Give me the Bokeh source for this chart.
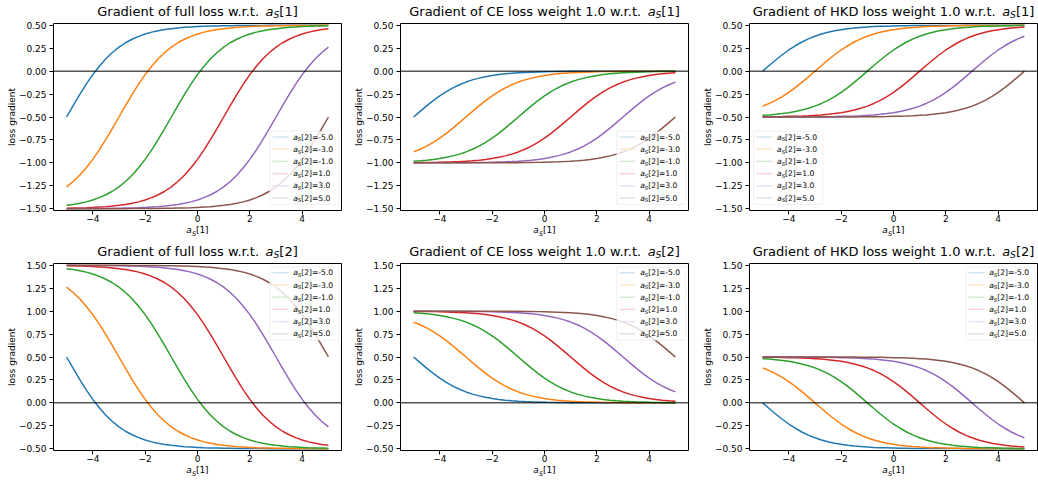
from bokeh.plotting import figure
from bokeh.models import Range1d, FixedTicker, CustomJSTickFormatter, Span, Label, BoxAnnotation
from bokeh.layouts import row, column
from bokeh.embed import file_html
from bokeh.resources import INLINE

# ---------------- data ----------------
x_values = [-5.0, -4.75, -4.5, -4.25, -4.0, -3.75, -3.5, -3.25, -3.0, -2.75, -2.5, -2.25, -2.0, -1.75,
            -1.5, -1.25, -1.0, -0.75, -0.5, -0.25, 0.0, 0.25, 0.5, 0.75, 1.0, 1.25, 1.5, 1.75,
            2.0, 2.25, 2.5, 2.75, 3.0, 3.25, 3.5, 3.75, 4.0, 4.25, 4.5, 4.75, 5.0]
legend_values = ["-5.0", "-3.0", "-1.0", "1.0", "3.0", "5.0"]
colors = ["#1f77b4", "#ff7f0e", "#2ca02c", "#d62728", "#9467bd", "#8c564b"]

full_grad_a1 = [
    [-0.500, -0.376, -0.256, -0.142, -0.038, 0.054, 0.136, 0.204, 0.262, 0.310, 0.348, 0.380, 0.406, 0.426,
     0.442, 0.454, 0.464, 0.472, 0.478, 0.482, 0.486, 0.490, 0.492, 0.494, 0.496, 0.496, 0.498, 0.498,
     0.498, 0.498, 0.498, 0.500, 0.500, 0.500, 0.500, 0.500, 0.500, 0.500, 0.500, 0.500, 0.500],
    [-1.262, -1.204, -1.136, -1.054, -0.962, -0.858, -0.744, -0.624, -0.500, -0.376, -0.256, -0.142, -0.038, 0.054,
     0.136, 0.204, 0.262, 0.310, 0.348, 0.380, 0.406, 0.426, 0.442, 0.454, 0.464, 0.472, 0.478, 0.482,
     0.486, 0.490, 0.492, 0.494, 0.496, 0.496, 0.498, 0.498, 0.498, 0.498, 0.498, 0.500, 0.500],
    [-1.464, -1.454, -1.442, -1.426, -1.406, -1.380, -1.348, -1.310, -1.262, -1.204, -1.136, -1.054, -0.962, -0.858,
     -0.744, -0.624, -0.500, -0.376, -0.256, -0.142, -0.038, 0.054, 0.136, 0.204, 0.262, 0.310, 0.348, 0.380,
     0.406, 0.426, 0.442, 0.454, 0.464, 0.472, 0.478, 0.482, 0.486, 0.490, 0.492, 0.494, 0.496],
    [-1.496, -1.494, -1.492, -1.490, -1.486, -1.482, -1.478, -1.472, -1.464, -1.454, -1.442, -1.426, -1.406, -1.380,
     -1.348, -1.310, -1.262, -1.204, -1.136, -1.054, -0.962, -0.858, -0.744, -0.624, -0.500, -0.376, -0.256, -0.142,
     -0.038, 0.054, 0.136, 0.204, 0.262, 0.310, 0.348, 0.380, 0.406, 0.426, 0.442, 0.454, 0.464],
    [-1.500, -1.500, -1.498, -1.498, -1.498, -1.498, -1.498, -1.496, -1.496, -1.494, -1.492, -1.490, -1.486, -1.482,
     -1.478, -1.472, -1.464, -1.454, -1.442, -1.426, -1.406, -1.380, -1.348, -1.310, -1.262, -1.204, -1.136, -1.054,
     -0.962, -0.858, -0.744, -0.624, -0.500, -0.376, -0.256, -0.142, -0.038, 0.054, 0.136, 0.204, 0.262],
    [-1.500, -1.500, -1.500, -1.500, -1.500, -1.500, -1.500, -1.500, -1.500, -1.500, -1.498, -1.498, -1.498, -1.498,
     -1.498, -1.496, -1.496, -1.494, -1.492, -1.490, -1.486, -1.482, -1.478, -1.472, -1.464, -1.454, -1.442, -1.426,
     -1.406, -1.380, -1.348, -1.310, -1.262, -1.204, -1.136, -1.054, -0.962, -0.858, -0.744, -0.624, -0.500],
]
ce_grad_a1 = [
    [-0.500, -0.438, -0.378, -0.321, -0.269, -0.223, -0.182, -0.148, -0.119, -0.095, -0.076, -0.060, -0.047, -0.037,
     -0.029, -0.023, -0.018, -0.014, -0.011, -0.009, -0.007, -0.005, -0.004, -0.003, -0.002, -0.002, -0.001, -0.001,
     -0.001, -0.001, -0.001, 0.000, 0.000, 0.000, 0.000, 0.000, 0.000, 0.000, 0.000, 0.000, 0.000],
    [-0.881, -0.852, -0.818, -0.777, -0.731, -0.679, -0.622, -0.562, -0.500, -0.438, -0.378, -0.321, -0.269, -0.223,
     -0.182, -0.148, -0.119, -0.095, -0.076, -0.060, -0.047, -0.037, -0.029, -0.023, -0.018, -0.014, -0.011, -0.009,
     -0.007, -0.005, -0.004, -0.003, -0.002, -0.002, -0.001, -0.001, -0.001, -0.001, -0.001, 0.000, 0.000],
    [-0.982, -0.977, -0.971, -0.963, -0.953, -0.940, -0.924, -0.905, -0.881, -0.852, -0.818, -0.777, -0.731, -0.679,
     -0.622, -0.562, -0.500, -0.438, -0.378, -0.321, -0.269, -0.223, -0.182, -0.148, -0.119, -0.095, -0.076, -0.060,
     -0.047, -0.037, -0.029, -0.023, -0.018, -0.014, -0.011, -0.009, -0.007, -0.005, -0.004, -0.003, -0.002],
    [-0.998, -0.997, -0.996, -0.995, -0.993, -0.991, -0.989, -0.986, -0.982, -0.977, -0.971, -0.963, -0.953, -0.940,
     -0.924, -0.905, -0.881, -0.852, -0.818, -0.777, -0.731, -0.679, -0.622, -0.562, -0.500, -0.438, -0.378, -0.321,
     -0.269, -0.223, -0.182, -0.148, -0.119, -0.095, -0.076, -0.060, -0.047, -0.037, -0.029, -0.023, -0.018],
    [-1.000, -1.000, -0.999, -0.999, -0.999, -0.999, -0.999, -0.998, -0.998, -0.997, -0.996, -0.995, -0.993, -0.991,
     -0.989, -0.986, -0.982, -0.977, -0.971, -0.963, -0.953, -0.940, -0.924, -0.905, -0.881, -0.852, -0.818, -0.777,
     -0.731, -0.679, -0.622, -0.562, -0.500, -0.438, -0.378, -0.321, -0.269, -0.223, -0.182, -0.148, -0.119],
    [-1.000, -1.000, -1.000, -1.000, -1.000, -1.000, -1.000, -1.000, -1.000, -1.000, -0.999, -0.999, -0.999, -0.999,
     -0.999, -0.998, -0.998, -0.997, -0.996, -0.995, -0.993, -0.991, -0.989, -0.986, -0.982, -0.977, -0.971, -0.963,
     -0.953, -0.940, -0.924, -0.905, -0.881, -0.852, -0.818, -0.777, -0.731, -0.679, -0.622, -0.562, -0.500],
]
hkd_grad_a1 = [
    [0.000, 0.062, 0.122, 0.179, 0.231, 0.277, 0.318, 0.352, 0.381, 0.405, 0.424, 0.440, 0.453, 0.463,
     0.471, 0.477, 0.482, 0.486, 0.489, 0.491, 0.493, 0.495, 0.496, 0.497, 0.498, 0.498, 0.499, 0.499,
     0.499, 0.499, 0.499, 0.500, 0.500, 0.500, 0.500, 0.500, 0.500, 0.500, 0.500, 0.500, 0.500],
    [-0.381, -0.352, -0.318, -0.277, -0.231, -0.179, -0.122, -0.062, 0.000, 0.062, 0.122, 0.179, 0.231, 0.277,
     0.318, 0.352, 0.381, 0.405, 0.424, 0.440, 0.453, 0.463, 0.471, 0.477, 0.482, 0.486, 0.489, 0.491,
     0.493, 0.495, 0.496, 0.497, 0.498, 0.498, 0.499, 0.499, 0.499, 0.499, 0.499, 0.500, 0.500],
    [-0.482, -0.477, -0.471, -0.463, -0.453, -0.440, -0.424, -0.405, -0.381, -0.352, -0.318, -0.277, -0.231, -0.179,
     -0.122, -0.062, 0.000, 0.062, 0.122, 0.179, 0.231, 0.277, 0.318, 0.352, 0.381, 0.405, 0.424, 0.440,
     0.453, 0.463, 0.471, 0.477, 0.482, 0.486, 0.489, 0.491, 0.493, 0.495, 0.496, 0.497, 0.498],
    [-0.498, -0.497, -0.496, -0.495, -0.493, -0.491, -0.489, -0.486, -0.482, -0.477, -0.471, -0.463, -0.453, -0.440,
     -0.424, -0.405, -0.381, -0.352, -0.318, -0.277, -0.231, -0.179, -0.122, -0.062, 0.000, 0.062, 0.122, 0.179,
     0.231, 0.277, 0.318, 0.352, 0.381, 0.405, 0.424, 0.440, 0.453, 0.463, 0.471, 0.477, 0.482],
    [-0.500, -0.500, -0.499, -0.499, -0.499, -0.499, -0.499, -0.498, -0.498, -0.497, -0.496, -0.495, -0.493, -0.491,
     -0.489, -0.486, -0.482, -0.477, -0.471, -0.463, -0.453, -0.440, -0.424, -0.405, -0.381, -0.352, -0.318, -0.277,
     -0.231, -0.179, -0.122, -0.062, 0.000, 0.062, 0.122, 0.179, 0.231, 0.277, 0.318, 0.352, 0.381],
    [-0.500, -0.500, -0.500, -0.500, -0.500, -0.500, -0.500, -0.500, -0.500, -0.500, -0.499, -0.499, -0.499, -0.499,
     -0.499, -0.498, -0.498, -0.497, -0.496, -0.495, -0.493, -0.491, -0.489, -0.486, -0.482, -0.477, -0.471, -0.463,
     -0.453, -0.440, -0.424, -0.405, -0.381, -0.352, -0.318, -0.277, -0.231, -0.179, -0.122, -0.062, 0.000],
]
full_grad_a2 = [
    [0.500, 0.376, 0.256, 0.142, 0.038, -0.054, -0.136, -0.204, -0.262, -0.310, -0.348, -0.380, -0.406, -0.426,
     -0.442, -0.454, -0.464, -0.472, -0.478, -0.482, -0.486, -0.490, -0.492, -0.494, -0.496, -0.496, -0.498, -0.498,
     -0.498, -0.498, -0.498, -0.500, -0.500, -0.500, -0.500, -0.500, -0.500, -0.500, -0.500, -0.500, -0.500],
    [1.262, 1.204, 1.136, 1.054, 0.962, 0.858, 0.744, 0.624, 0.500, 0.376, 0.256, 0.142, 0.038, -0.054,
     -0.136, -0.204, -0.262, -0.310, -0.348, -0.380, -0.406, -0.426, -0.442, -0.454, -0.464, -0.472, -0.478, -0.482,
     -0.486, -0.490, -0.492, -0.494, -0.496, -0.496, -0.498, -0.498, -0.498, -0.498, -0.498, -0.500, -0.500],
    [1.464, 1.454, 1.442, 1.426, 1.406, 1.380, 1.348, 1.310, 1.262, 1.204, 1.136, 1.054, 0.962, 0.858,
     0.744, 0.624, 0.500, 0.376, 0.256, 0.142, 0.038, -0.054, -0.136, -0.204, -0.262, -0.310, -0.348, -0.380,
     -0.406, -0.426, -0.442, -0.454, -0.464, -0.472, -0.478, -0.482, -0.486, -0.490, -0.492, -0.494, -0.496],
    [1.496, 1.494, 1.492, 1.490, 1.486, 1.482, 1.478, 1.472, 1.464, 1.454, 1.442, 1.426, 1.406, 1.380,
     1.348, 1.310, 1.262, 1.204, 1.136, 1.054, 0.962, 0.858, 0.744, 0.624, 0.500, 0.376, 0.256, 0.142,
     0.038, -0.054, -0.136, -0.204, -0.262, -0.310, -0.348, -0.380, -0.406, -0.426, -0.442, -0.454, -0.464],
    [1.500, 1.500, 1.498, 1.498, 1.498, 1.498, 1.498, 1.496, 1.496, 1.494, 1.492, 1.490, 1.486, 1.482,
     1.478, 1.472, 1.464, 1.454, 1.442, 1.426, 1.406, 1.380, 1.348, 1.310, 1.262, 1.204, 1.136, 1.054,
     0.962, 0.858, 0.744, 0.624, 0.500, 0.376, 0.256, 0.142, 0.038, -0.054, -0.136, -0.204, -0.262],
    [1.500, 1.500, 1.500, 1.500, 1.500, 1.500, 1.500, 1.500, 1.500, 1.500, 1.498, 1.498, 1.498, 1.498,
     1.498, 1.496, 1.496, 1.494, 1.492, 1.490, 1.486, 1.482, 1.478, 1.472, 1.464, 1.454, 1.442, 1.426,
     1.406, 1.380, 1.348, 1.310, 1.262, 1.204, 1.136, 1.054, 0.962, 0.858, 0.744, 0.624, 0.500],
]
ce_grad_a2 = [
    [0.500, 0.438, 0.378, 0.321, 0.269, 0.223, 0.182, 0.148, 0.119, 0.095, 0.076, 0.060, 0.047, 0.037,
     0.029, 0.023, 0.018, 0.014, 0.011, 0.009, 0.007, 0.005, 0.004, 0.003, 0.002, 0.002, 0.001, 0.001,
     0.001, 0.001, 0.001, 0.000, 0.000, 0.000, 0.000, 0.000, 0.000, 0.000, 0.000, 0.000, 0.000],
    [0.881, 0.852, 0.818, 0.777, 0.731, 0.679, 0.622, 0.562, 0.500, 0.438, 0.378, 0.321, 0.269, 0.223,
     0.182, 0.148, 0.119, 0.095, 0.076, 0.060, 0.047, 0.037, 0.029, 0.023, 0.018, 0.014, 0.011, 0.009,
     0.007, 0.005, 0.004, 0.003, 0.002, 0.002, 0.001, 0.001, 0.001, 0.001, 0.001, 0.000, 0.000],
    [0.982, 0.977, 0.971, 0.963, 0.953, 0.940, 0.924, 0.905, 0.881, 0.852, 0.818, 0.777, 0.731, 0.679,
     0.622, 0.562, 0.500, 0.438, 0.378, 0.321, 0.269, 0.223, 0.182, 0.148, 0.119, 0.095, 0.076, 0.060,
     0.047, 0.037, 0.029, 0.023, 0.018, 0.014, 0.011, 0.009, 0.007, 0.005, 0.004, 0.003, 0.002],
    [0.998, 0.997, 0.996, 0.995, 0.993, 0.991, 0.989, 0.986, 0.982, 0.977, 0.971, 0.963, 0.953, 0.940,
     0.924, 0.905, 0.881, 0.852, 0.818, 0.777, 0.731, 0.679, 0.622, 0.562, 0.500, 0.438, 0.378, 0.321,
     0.269, 0.223, 0.182, 0.148, 0.119, 0.095, 0.076, 0.060, 0.047, 0.037, 0.029, 0.023, 0.018],
    [1.000, 1.000, 0.999, 0.999, 0.999, 0.999, 0.999, 0.998, 0.998, 0.997, 0.996, 0.995, 0.993, 0.991,
     0.989, 0.986, 0.982, 0.977, 0.971, 0.963, 0.953, 0.940, 0.924, 0.905, 0.881, 0.852, 0.818, 0.777,
     0.731, 0.679, 0.622, 0.562, 0.500, 0.438, 0.378, 0.321, 0.269, 0.223, 0.182, 0.148, 0.119],
    [1.000, 1.000, 1.000, 1.000, 1.000, 1.000, 1.000, 1.000, 1.000, 1.000, 0.999, 0.999, 0.999, 0.999,
     0.999, 0.998, 0.998, 0.997, 0.996, 0.995, 0.993, 0.991, 0.989, 0.986, 0.982, 0.977, 0.971, 0.963,
     0.953, 0.940, 0.924, 0.905, 0.881, 0.852, 0.818, 0.777, 0.731, 0.679, 0.622, 0.562, 0.500],
]
hkd_grad_a2 = [
    [0.000, -0.062, -0.122, -0.179, -0.231, -0.277, -0.318, -0.352, -0.381, -0.405, -0.424, -0.440, -0.453, -0.463,
     -0.471, -0.477, -0.482, -0.486, -0.489, -0.491, -0.493, -0.495, -0.496, -0.497, -0.498, -0.498, -0.499, -0.499,
     -0.499, -0.499, -0.499, -0.500, -0.500, -0.500, -0.500, -0.500, -0.500, -0.500, -0.500, -0.500, -0.500],
    [0.381, 0.352, 0.318, 0.277, 0.231, 0.179, 0.122, 0.062, 0.000, -0.062, -0.122, -0.179, -0.231, -0.277,
     -0.318, -0.352, -0.381, -0.405, -0.424, -0.440, -0.453, -0.463, -0.471, -0.477, -0.482, -0.486, -0.489, -0.491,
     -0.493, -0.495, -0.496, -0.497, -0.498, -0.498, -0.499, -0.499, -0.499, -0.499, -0.499, -0.500, -0.500],
    [0.482, 0.477, 0.471, 0.463, 0.453, 0.440, 0.424, 0.405, 0.381, 0.352, 0.318, 0.277, 0.231, 0.179,
     0.122, 0.062, 0.000, -0.062, -0.122, -0.179, -0.231, -0.277, -0.318, -0.352, -0.381, -0.405, -0.424, -0.440,
     -0.453, -0.463, -0.471, -0.477, -0.482, -0.486, -0.489, -0.491, -0.493, -0.495, -0.496, -0.497, -0.498],
    [0.498, 0.497, 0.496, 0.495, 0.493, 0.491, 0.489, 0.486, 0.482, 0.477, 0.471, 0.463, 0.453, 0.440,
     0.424, 0.405, 0.381, 0.352, 0.318, 0.277, 0.231, 0.179, 0.122, 0.062, 0.000, -0.062, -0.122, -0.179,
     -0.231, -0.277, -0.318, -0.352, -0.381, -0.405, -0.424, -0.440, -0.453, -0.463, -0.471, -0.477, -0.482],
    [0.500, 0.500, 0.499, 0.499, 0.499, 0.499, 0.499, 0.498, 0.498, 0.497, 0.496, 0.495, 0.493, 0.491,
     0.489, 0.486, 0.482, 0.477, 0.471, 0.463, 0.453, 0.440, 0.424, 0.405, 0.381, 0.352, 0.318, 0.277,
     0.231, 0.179, 0.122, 0.062, 0.000, -0.062, -0.122, -0.179, -0.231, -0.277, -0.318, -0.352, -0.381],
    [0.500, 0.500, 0.500, 0.500, 0.500, 0.500, 0.500, 0.500, 0.500, 0.500, 0.499, 0.499, 0.499, 0.499,
     0.499, 0.498, 0.498, 0.497, 0.496, 0.495, 0.493, 0.491, 0.489, 0.486, 0.482, 0.477, 0.471, 0.463,
     0.453, 0.440, 0.424, 0.405, 0.381, 0.352, 0.318, 0.277, 0.231, 0.179, 0.122, 0.062, 0.000],
]

top_ticks = [-1.5, -1.25, -1.0, -0.75, -0.5, -0.25, 0.0, 0.25, 0.5]
bottom_ticks = [-0.5, -0.25, 0.0, 0.25, 0.5, 0.75, 1.0, 1.25, 1.5]
x_ticks = [-4, -2, 0, 2, 4]

panels = [
    ("Gradient of full loss w.r.t.", "[1]", full_grad_a1, "lower_right"),
    ("Gradient of CE loss weight 1.0 w.r.t.", "[1]", ce_grad_a1, "lower_right"),
    ("Gradient of HKD loss weight 1.0 w.r.t.", "[1]", hkd_grad_a1, "lower_left"),
    ("Gradient of full loss w.r.t.", "[2]", full_grad_a2, "upper_right"),
    ("Gradient of CE loss weight 1.0 w.r.t.", "[2]", ce_grad_a2, "upper_right"),
    ("Gradient of HKD loss weight 1.0 w.r.t.", "[2]", hkd_grad_a2, "upper_right"),
]

# ---------------- layout constants ----------------
PAGE_W = 1038
FW, FH = 288, 187
X0, X1 = -5.5, 5.5
YR_TOP = (-1.52, 0.52)
YR_BOT = (-0.52, 1.52)
LEFT_B = [53, 54, 56]
RIGHT_B = [5, 5, 1]
FRAME_LEFT = [53, 400, 749]
MAIN_TOP_B = 3
MAIN_BOT_B = 15
STRIP_H = [20, 35, 17]
FONT = "DejaVu Sans"
MID = 0.346   # distance (in em) from baseline up to the middle of the text box

GW = {' ': 651, '.': 651, '0': 1303, '1': 1303, '2': 1303, '3': 1303, '5': 1303,
      'C': 1430, 'D': 1577, 'E': 1294, 'G': 1587, 'H': 1540, 'K': 1343, 'S': 1300,
      'a': 1255, 'd': 1300, 'e': 1260, 'f': 721, 'g': 1300, 'h': 1298, 'i': 569,
      'l': 569, 'n': 1298, 'o': 1253, 'r': 842, 's': 1067, 't': 803, 'u': 1298,
      'w': 1675, '[': 799, ']': 799, '=': 1716, '-': 739}


def tw(text, size):
    return sum(GW.get(c, 1250) for c in text) / 2048.0 * size


def fx(px):
    return X0 + px * (X1 - X0) / FW


def fy(py, yr):
    return yr[0] + py * (yr[1] - yr[0]) / FH


def rich(p, x_px, pieces, xmap, ymap, center=True):
    """pieces: (text, italic, size_px, shift_down_px, extra_advance_px);
    ymap(down_px) gives the data y of a point lying down_px below the common baseline."""
    widths = [tw(t, s) + extra for (t, it, s, dy, extra) in pieces]
    x = x_px - sum(widths) / 2.0 if center else x_px
    for (t, it, s, dy, extra), w in zip(pieces, widths):
        p.add_layout(Label(x=xmap(x), y=ymap(dy - MID * s), text=t, text_font=FONT,
                           text_font_style="italic" if it else "normal",
                           text_font_size="%.2fpx" % s, text_align="left",
                           text_baseline="middle", text_color="black", level="overlay"))
        x += w


def strip(h):
    s = figure(width=PAGE_W, height=h, x_range=Range1d(0, PAGE_W), y_range=Range1d(h, 0),
               output_backend="svg", toolbar_location=None, x_axis_type=None, y_axis_type=None,
               min_border=0, min_border_left=0, min_border_right=0, min_border_top=0,
               min_border_bottom=0, background_fill_color="white", border_fill_color="white")
    s.title.visible = False
    s.outline_line_color = None
    s.xgrid.visible = False
    s.ygrid.visible = False
    return s


def title_pieces(title, idx):
    return [(title, False, 13, 0, tw(" ", 13)), ("a", True, 13, 0, 0),
            ("S", True, 9.1, 2.0, 0), (idx, False, 13, 0, 0)]


xlabel_pieces = [("a", True, 9, 0, 0), ("S", True, 6.3, 1.8, 0), ("[1]", False, 9, 0, 0)]

strips = [strip(h) for h in STRIP_H]
ident = lambda v: v
TITLE_BASE = [15.8, 30.8]
XLABEL_BASE = [8.0, 8.0]
for i, (title, idx, series, loc) in enumerate(panels):
    r, c = divmod(i, 3)
    cx = FRAME_LEFT[c] + FW / 2.0
    rich(strips[r], cx, title_pieces(title, idx), ident, lambda dy, b=TITLE_BASE[r]: b + dy)
    rich(strips[r + 1], cx, xlabel_pieces, ident, lambda dy, b=XLABEL_BASE[r]: b + dy)

figs = []
for i, (title, idx, series, loc) in enumerate(panels):
    r, c = divmod(i, 3)
    yr = YR_TOP if r == 0 else YR_BOT
    p = figure(frame_width=FW, frame_height=FH, x_range=Range1d(X0, X1),
               y_range=Range1d(*yr), output_backend="svg", toolbar_location=None,
               min_border_left=LEFT_B[c], min_border_right=RIGHT_B[c],
               min_border_top=MAIN_TOP_B, min_border_bottom=MAIN_BOT_B,
               background_fill_color="white", border_fill_color="white")
    p.title.visible = False
    p.xgrid.visible = False
    p.ygrid.visible = False
    p.outline_line_color = "black"
    p.outline_line_width = 1
    p.xaxis.ticker = FixedTicker(ticks=x_ticks)
    p.yaxis.ticker = FixedTicker(ticks=top_ticks if r == 0 else bottom_ticks)
    p.xaxis.formatter = CustomJSTickFormatter(code="return (tick < 0 ? '\u2212' : '') + Math.abs(tick).toFixed(0);")
    p.yaxis.formatter = CustomJSTickFormatter(code="return (tick < 0 ? '\u2212' : '') + Math.abs(tick).toFixed(2);")
    for ax in (p.xaxis[0], p.yaxis[0]):
        ax.axis_line_color = None
        ax.major_tick_line_color = "black"
        ax.major_tick_line_width = 1
        ax.major_tick_out = 4
        ax.major_tick_in = 0
        ax.minor_tick_line_color = None
        ax.major_label_text_font = FONT
        ax.major_label_text_font_size = "9px"
        ax.major_label_text_color = "black"
    p.xaxis.major_label_standoff = 0
    p.yaxis.major_label_standoff = 3
    p.yaxis.axis_label = "loss gradient"
    p.yaxis.axis_label_text_font = FONT
    p.yaxis.axis_label_text_font_size = "9px"
    p.yaxis.axis_label_text_font_style = "normal"
    p.yaxis.axis_label_text_color = "black"
    p.yaxis.axis_label_standoff = -1

    for k, ys in enumerate(series):
        p.line(x_values, ys, line_color=colors[k], line_width=1.5)

    p.add_layout(Span(location=0, dimension="width", line_color="black", line_width=1))

    # legend (pixel geometry relative to the frame, converted to data units)
    bw, bh = 69.3, 73.3
    if loc == "lower_right":
        bl, bb = FW - 2.5 - bw, 6.0
    elif loc == "upper_right":
        bl, bb = FW - 2.5 - bw, FH - 3.5 - bh
    else:
        bl, bb = 4.0, 6.0
    bt = bb + bh
    p.add_layout(BoxAnnotation(left=fx(bl), right=fx(bl + bw), bottom=fy(bb, yr), top=fy(bt, yr),
                               fill_color="white", fill_alpha=0.8, line_color="#cccccc",
                               line_width=1, border_radius=2, level="overlay"))
    for k, lv in enumerate(legend_values):
        cy = bt - 5.8 - k * 12.2
        seg = p.segment(x0=[fx(bl + 3)], y0=[fy(cy, yr)], x1=[fx(bl + 18.5)], y1=[fy(cy, yr)],
                        line_color=colors[k], line_width=1.5)
        seg.level = "overlay"
        base = cy - 2.65
        rich(p, bl + 23.5, [("a", True, 7.6, 0, 0), ("S", True, 5.32, 1.5, 0),
                            ("[2]=" + lv, False, 7.6, 0, 0)],
             fx, lambda dy, b=base, yr=yr: fy(b - dy, yr), center=False)
    figs.append(p)

layout = column(strips[0], row(*figs[:3], spacing=0), strips[1],
                row(*figs[3:], spacing=0), strips[2], spacing=0)
open("out.html", "w").write(file_html(layout, INLINE, title="loss gradients"))
